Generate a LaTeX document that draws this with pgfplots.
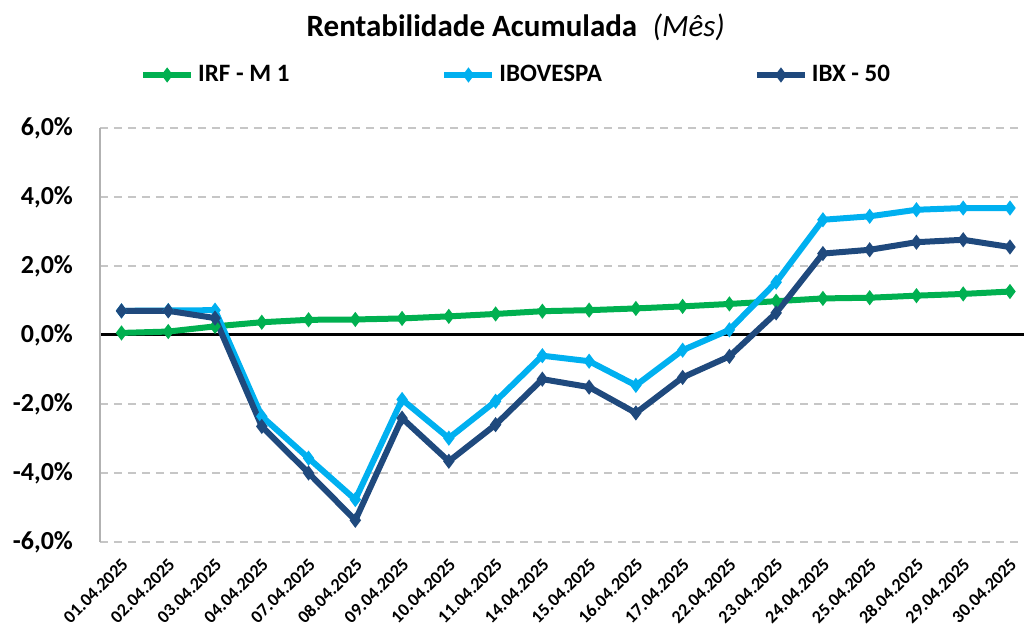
\documentclass[border=0pt]{standalone}
\usepackage{fontspec}
\setmainfont{Carlito}
\usepackage{pgfplots}
\pgfplotsset{compat=1.18}
\definecolor{irf}{HTML}{00B050}
\definecolor{ibov}{HTML}{00B0F0}
\definecolor{ibx}{HTML}{1F497D}
\begin{document}
\begin{tikzpicture}
\useasboundingbox (0,0) rectangle (512pt,316.5pt);
\begin{axis}[
  at={(50pt,45.5pt)}, anchor=south west,
  scale only axis, width=462pt, height=207pt,
  xmin=-0.46, xmax=19.3, ymin=-6, ymax=6,
  xtick={0,...,19},
  xticklabels={01.04.2025,02.04.2025,03.04.2025,04.04.2025,07.04.2025,08.04.2025,09.04.2025,10.04.2025,11.04.2025,14.04.2025,15.04.2025,16.04.2025,17.04.2025,22.04.2025,23.04.2025,24.04.2025,25.04.2025,28.04.2025,29.04.2025,30.04.2025},
  ytick={-6,-4,-2,0,2,4,6},
  yticklabels={{-6,0\%},{-4,0\%},{-2,0\%},{0,0\%},{2,0\%},{4,0\%},{6,0\%}},
  major tick length=0pt,
  x tick label style={rotate=45, anchor=north east, font=\bfseries\fontsize{9}{10}\selectfont, inner sep=1pt, xshift=-4.5pt, yshift=-4pt},
  y tick label style={font=\bfseries\fontsize{13}{14}\selectfont, xshift=-10pt},
  ymajorgrids,
  major grid style={draw=gray!45, line width=0.8pt, dash pattern=on 4pt off 3pt},
  axis line style={draw=none},
  extra y ticks={0}, extra y tick labels={},
  extra y tick style={grid=major, major grid style={draw=black, line width=1.5pt, solid}},
  clip=false,
  legend columns=3,
  legend style={at={(0.043,1.128)}, anchor=west, draw=none, fill=none, inner xsep=0pt,
    font=\bfseries\fontsize{12.5}{14}\selectfont,
    /tikz/every even column/.append style={column sep=74pt},
    legend image code/.code={\draw[#1, line width=3pt, mark=none] (0pt,0pt) -- (24pt,0pt);
      \path[#1, line width=1pt] plot[mark=diamond*] coordinates {(12pt,0pt)};}},
  legend cell align=left,
  every axis plot/.append style={line width=3pt, mark=diamond*, mark size=3pt, mark options={solid, line width=1pt}},
]
\draw[gray!60, line width=0.8pt] (rel axis cs:0,0) -- (rel axis cs:0,1);
\node[font=\bfseries\fontsize{15.5}{18}\selectfont] at (rel axis cs:0.45,1.242) {Rentabilidade Acumulada\enspace{\mdseries\itshape (Mês)}};
\addplot[irf] coordinates {
(0,0.06) (1,0.10) (2,0.25) (3,0.37) (4,0.44) (5,0.45) (6,0.48) (7,0.54) (8,0.61) (9,0.69)
(10,0.72) (11,0.77) (12,0.83) (13,0.90) (14,0.98) (15,1.06) (16,1.08) (17,1.14) (18,1.19) (19,1.26)};
\addlegendentry{IRF - M 1}
\addplot[ibov] coordinates {
(0,0.70) (1,0.71) (2,0.72) (3,-2.36) (4,-3.57) (5,-4.77) (6,-1.87) (7,-2.99) (8,-1.92) (9,-0.60)
(10,-0.76) (11,-1.46) (12,-0.44) (13,0.15) (14,1.53) (15,3.34) (16,3.44) (17,3.63) (18,3.68) (19,3.68)};
\addlegendentry{IBOVESPA}
\addplot[ibx] coordinates {
(0,0.70) (1,0.70) (2,0.49) (3,-2.65) (4,-4.00) (5,-5.37) (6,-2.41) (7,-3.66) (8,-2.60) (9,-1.28)
(10,-1.51) (11,-2.26) (12,-1.23) (13,-0.62) (14,0.64) (15,2.36) (16,2.47) (17,2.69) (18,2.76) (19,2.55)};
\addlegendentry{IBX - 50}
\end{axis}
\end{tikzpicture}
\end{document}
